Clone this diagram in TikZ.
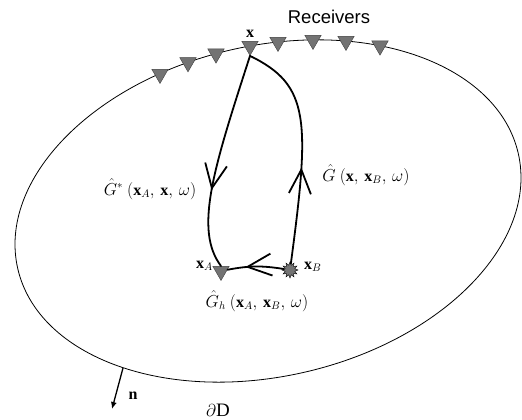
\documentclass[tikz,border=0pt]{standalone}
\usepackage{amsmath,amssymb}
\usepackage{fontspec}
\setmainfont{Liberation Serif}
\newfontfamily\rcvfont{Liberation Sans}
\usepackage{tikz}
\usetikzlibrary{arrows.meta,positioning,shapes.geometric,decorations.markings}

\begin{document}
\begin{tikzpicture}[
        x=1pt, y=1pt,
        font=\fontsize{16}{19}\selectfont,
        rcv/.style={regular polygon, regular polygon sides=3, shape border rotate=180, draw=black!75, fill=black!55, minimum size=19pt, inner sep=0pt},
        src/.style={star, star points=12, star point ratio=1.6, draw=black, fill=black!55, minimum size=16pt, inner sep=0pt},
        ray/.style={line width=1.8pt, line cap=round},
        midarr/.style={postaction={decorate}, decoration={markings, mark=at position #1 with {\arrow{Straight Barb[length=24pt, width=22pt]}}}}
    ]
        \useasboundingbox (0,0) rectangle (522,420);
        % boundary of the volume
        \draw[line width=0.8pt, rotate around={13:(268,209)}] (268,209) ellipse [x radius=256.8pt, y radius=165.3pt];
        % receivers on the boundary
        \node[rcv] (r1) at (160,346) {};
        \node[rcv] (r2) at (188,357.6) {};
        \node[rcv] (r3) at (216,366.3) {};
        \node[rcv] (rx) at (250,374) {};
        \node[rcv] (r5) at (278,378) {};
        \node[rcv] (r6) at (313,380) {};
        \node[rcv] (r7) at (346,379) {};
        \node[rcv] (r8) at (380,374.3) {};
        \node[above=0pt of rx] (xlbl) {$\mathbf{x}$};
        \node[font=\rcvfont\fontsize{18.5}{21}\selectfont] (rcvlbl) at (329,403) {Receivers};
        % inner points
        \node[rcv] (xa) at (221,149) {};
        \node[src] (xb) at (290,150) {};
        \node[left=-1pt of xa, yshift=5pt] (xalbl) {$\mathbf{x}_{A}$};
        \node[right=2pt of xb, yshift=3pt] (xblbl) {$\mathbf{x}_{B}$};
        % paths
        \draw[ray, midarr=0.64] (rx.south) .. controls (213,250) and (194,190) .. (xa.north);
        \draw[ray, midarr=0.42] (xb) .. controls (310,300) and (310,335) .. (rx.south);
        \draw[ray, midarr=0.68] (xb) to[bend right=10] (xa);
        \node (gstar) at (150,231) {$\hat{G}^{*}\ (\mathbf{x}_{A},\,\mathbf{x},\,\omega)$};
        \node (gfwd) at (366,245) {$\hat{G}\ (\mathbf{x},\,\mathbf{x}_{B},\,\omega)$};
        \node (gh) at (257,119) {$\hat{G}_{h}\ (\mathbf{x}_{A},\,\mathbf{x}_{B},\,\omega)$};
        % normal
        \coordinate (nbase) at (123,52);
        \coordinate (ntip) at (112,11);
        \draw[line width=1.3pt, -{Latex[length=7pt, width=6pt]}] (nbase) -- (ntip);
        \node (nlbl) at (133,24) {$\mathbf{n}$};
        \node[font=\fontsize{19}{21}\selectfont] (dlbl) at (218,10) {$\partial\mathrm{D}$};
    \end{tikzpicture}
\end{document}
